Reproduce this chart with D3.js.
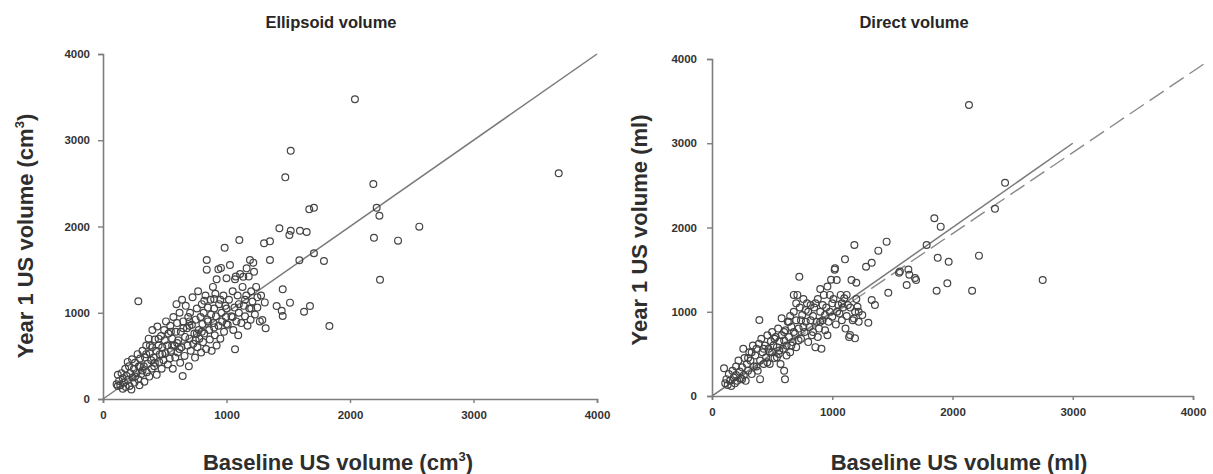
<!DOCTYPE html>
<html><head><meta charset="utf-8">
<script src="https://cdn.jsdelivr.net/npm/d3@7"></script>
<style>body{margin:0;background:#fff;} svg{display:block;font-family:"Liberation Sans",Arial,sans-serif;}</style>
</head><body>
<svg id="c" width="1213" height="474"></svg>
<script>
const ticks = [0, 1000, 2000, 3000, 4000];
const tickLabels = ["0", "1000", "2000", "3000", "4000"];

// Ellipsoid volume: [baseline, year1] (cm3)
const ellipsoidPoints = [
[110,170],[120,280],[130,210],[140,160],[150,300],[160,240],[170,190],[180,350],[185,140],[190,270],[200,430],[200,220],[160,120],[120,150],
[210,380],[215,150],[220,300],[230,110],[235,460],[240,250],[250,350],[255,190],[260,420],[270,300],[280,520],[285,230],[290,380],[295,160],[286,1133],
[300,470],[310,290],[320,560],[330,380],[335,200],[340,480],[350,620],[355,310],[360,410],[370,700],[375,260],[380,530],[390,450],[395,350],[400,800],[398,600],
[410,480],[415,380],[420,690],[430,560],[435,280],[440,840],[450,620],[455,430],[460,520],[470,730],[475,350],[480,600],[490,450],[495,800],[500,680],
[505,530],[510,900],[520,620],[525,400],[530,760],[540,470],[545,850],[550,560],[560,700],[565,350],[570,950],[580,620],[585,480],[590,780],[595,1100],[600,880],
[605,540],[610,680],[620,1000],[625,420],[630,780],[635,600],[640,1150],[645,267],[650,900],[660,500],[665,720],[670,1080],[680,820],[685,620],[690,950],[695,380],[700,700],
[705,1000],[710,560],[720,860],[725,1180],[730,640],[740,760],[745,480],[750,920],[760,1050],[765,600],[770,1250],[775,800],[780,700],[790,950],[795,540],[800,1100],
[805,870],[810,660],[815,1000],[820,760],[830,1200],[835,580],[840,1500],[840,1612],[845,920],[850,1060],[860,800],[865,690],[870,1150],[875,980],[880,560],[890,1300],[895,880],[900,1050],
[905,740],[910,1220],[915,960],[920,620],[920,1388],[934,1503],[935,850],[940,1100],[950,700],[955,1520],[960,1000],[965,900],[975,1200],[980,780],[985,1754],[990,1080],[995,950],[1000,1400],
[1010,860],[1020,1150],[1028,1554],[1040,960],[1050,1250],[1055,800],[1065,1060],[1069,576],[1069,1388],[1075,1420],[1080,900],[1090,1200],[1095,740],[1104,1843],[1100,1000],
[1110,1450],[1120,880],[1130,1300],[1136,1418],[1140,1080],[1150,960],[1163,1515],[1160,1200],[1170,850],[1180,1420],[1185,1050],[1190,1612],[1195,920],[1200,1250],
[1210,1130],[1217,1581],[1223,1476],[1230,980],[1240,1300],[1250,1060],[1270,900],[1280,1200],[1290,916],[1304,1805],[1310,1120],[1317,820],[1352,1828],[1352,1612],
[350,520],[450,700],[550,780],[600,650],[650,820],[700,850],[750,680],[800,780],[850,900],[900,830],[950,1150],[1000,1050],[1050,950],[1100,1100],[1150,1150],
[1200,1050],[1250,1180],[700,900],[620,580],[560,620],[480,520],[420,420],[380,620],[320,330],[260,260],[300,380],[900,1160],[1000,870],[760,760],[820,1140],
[1406,1078],[1428,1979],[1447,1024],[1455,962],[1455,1272],[1476,2570],[1509,1901],[1514,1117],[1520,2879],[1520,1951],[1590,1608],[1595,1951],[1628,1012],[1649,1936],[1670,2199],[1676,1078],[1708,2218],[1708,1689],[1789,1600],[1833,846],
[2040,3475],[2189,2493],[2194,1870],[2216,2218],[2238,2125],[2243,1383],[2389,1836],[2561,1998],[3690,2617]
];

// Direct volume: [baseline, year1] (ml)
const directPoints = [
[100,330],[110,150],[120,200],[130,130],[140,260],[150,180],[160,120],[170,300],[180,220],[190,150],[200,350],[200,250],
[210,180],[220,420],[230,290],[240,210],[250,340],[260,560],[265,250],[270,450],[280,180],[290,380],[300,300],
[310,520],[320,420],[330,260],[340,600],[350,350],[360,480],[370,560],[380,300],[390,620],[394,902],[400,420],[400,200],
[410,680],[420,520],[430,380],[440,600],[450,460],[460,720],[470,560],[480,380],[490,650],[500,520],[500,760],
[510,600],[520,450],[530,700],[540,580],[550,800],[555,500],[560,650],[570,380],[579,922],[580,720],[590,560],[600,660],[607,198],[600,300],
[610,780],[620,600],[630,880],[640,700],[650,520],[660,820],[670,640],[680,1000],[690,740],[700,580],[700,900],
[710,1200],[720,800],[726,1416],[730,1050],[740,680],[750,960],[760,1150],[770,760],[780,880],[790,1100],[800,640],[800,1000],
[810,820],[820,1080],[830,720],[840,950],[850,1050],[860,580],[870,880],[880,1150],[890,800],[900,1000],[900,1270],
[910,560],[920,900],[930,1200],[940,780],[950,1050],[960,1300],[970,880],[980,1000],[990,1380],[1000,940],
[1010,1150],[1020,1500],[1023,1515],[1030,850],[1037,1377],[1050,1080],[1060,980],[1070,1200],[1080,900],[1090,1050],[1100,1160],
[1106,1622],[1110,800],[1120,950],[1130,1080],[1140,700],[1148,724],[1160,1377],[1170,900],[1184,1792],[1189,684],[1190,1000],[1200,1345],[1210,1060],[1220,880],
[1281,1535],[1300,870],[1328,1582],[1328,1139],[1355,1080],[1383,1725],[1452,1832],[1466,1226],
[430,560],[460,400],[480,520],[520,680],[540,460],[560,540],[600,760],[620,480],[640,880],[660,600],[680,760],[720,660],[740,900],[760,820],[780,1020],
[820,900],[840,760],[860,1100],[880,700],[900,880],[920,1080],[940,960],[960,720],[980,1200],[1000,1100],[1040,1000],[1080,1100],[1120,1200],[1150,1050],
[1180,920],[1200,1150],[1220,1000],[1250,960],[700,1100],[680,1200],[650,950],[300,450],[250,200],[330,520],[370,350],
[1555,1464],[1563,1478],[1633,1502],[1641,1440],[1688,1400],[1619,1317],[1697,1377],[1785,1792],[1849,2109],[1902,2010],[1877,1641],[1968,1594],[1868,1250],[1957,1337],
[2137,3454],[2163,1250],[2220,1666],[2353,2223],[2437,2532],[2750,1377]
];

// reference lines [x0,y0,x1,y1]
const ellipsoidIdentity = [0, 0, 4000, 4000];
const directIdentity = [0, 0, 3000, 3000];
const directFit = [0, 0, 4100, 3950];

const svg = d3.select("#c");

function panel(cfg) {
  const x = d3.scaleLinear().domain([0, 4000]).range([cfg.x0, cfg.x1]);
  const y = d3.scaleLinear().domain([0, 4000]).range([cfg.y0, cfg.y1]);
  const g = svg.append("g");
  const axisColor = "#7d7d7d";

  const xa = g.append("g").attr("transform", `translate(0,${cfg.y0})`)
    .call(d3.axisBottom(x).tickValues(ticks).tickFormat((d,i)=>tickLabels[i]).tickSize(4).tickPadding(8));
  const ya = g.append("g").attr("transform", `translate(${cfg.x0},0)`)
    .call(d3.axisLeft(y).tickValues(ticks).tickFormat((d,i)=>tickLabels[i]).tickSize(5).tickPadding(cfg.ypad));
  [xa, ya].forEach(a => {
    a.select(".domain").attr("stroke", axisColor).attr("stroke-width", 1.6);
    a.selectAll(".tick line").attr("stroke", axisColor).attr("stroke-width", 1.4);
    a.selectAll("text").attr("font-size", 11.5).attr("font-weight", "bold").attr("fill", "#333")
      .attr("font-family", "'Liberation Sans', Arial, sans-serif");
  });

  cfg.lines.forEach(l => {
    g.append("line")
      .attr("x1", x(l.d[0])).attr("y1", y(l.d[1])).attr("x2", x(l.d[2])).attr("y2", y(l.d[3]))
      .attr("stroke", l.color).attr("stroke-width", l.w).attr("stroke-dasharray", l.dash || null);
  });

  g.append("g").selectAll("circle").data(cfg.points).join("circle")
    .attr("cx", d => x(d[0])).attr("cy", d => y(d[1])).attr("r", 3.4)
    .attr("fill", "none").attr("stroke", "#444").attr("stroke-width", 1.2);

  g.append("text").attr("x", cfg.titleX).attr("y", 28).attr("text-anchor", "middle")
    .attr("font-size", 16.5).attr("font-weight", "bold").attr("fill", "#262626").text(cfg.title);

  const xt = g.append("text").attr("x", cfg.xtX).attr("y", 470).attr("text-anchor", "middle")
    .attr("font-size", 22).attr("font-weight", "bold").attr("fill", "#2e2e2e");
  cfg.unitText(xt, "Baseline US volume ");

  const yt = g.append("text").attr("transform", `translate(${cfg.ytX},${cfg.ytY}) rotate(-90)`)
    .attr("text-anchor", "middle")
    .attr("font-size", 22).attr("font-weight", "bold").attr("fill", "#2e2e2e");
  cfg.unitText(yt, "Year 1 US volume ");
}

function cm3(t, pre) {
  t.append("tspan").text(pre + "(cm");
  t.append("tspan").attr("font-size", 13).attr("dy", -9).text("3");
  t.append("tspan").attr("dy", 9).text(")");
}
function ml(t, pre) { t.text(pre + "(ml)"); }

panel({
  x0: 103, x1: 597, y0: 399, y1: 54, ypad: 8,
  points: ellipsoidPoints,
  lines: [{d: ellipsoidIdentity, color: "#7a7a7a", w: 1.5}],
  title: "Ellipsoid volume", titleX: 331,
  xtX: 338, ytX: 33, ytY: 236, unitText: cm3
});

panel({
  x0: 712, x1: 1193, y0: 396, y1: 59, ypad: 10,
  points: directPoints,
  lines: [{d: directFit, color: "#8a8a8a", w: 1.4, dash: "17,7"},
          {d: directIdentity, color: "#7a7a7a", w: 1.5}],
  title: "Direct volume", titleX: 914,
  xtX: 959, ytX: 647, ytY: 230, unitText: ml
});
</script>
</body></html>
